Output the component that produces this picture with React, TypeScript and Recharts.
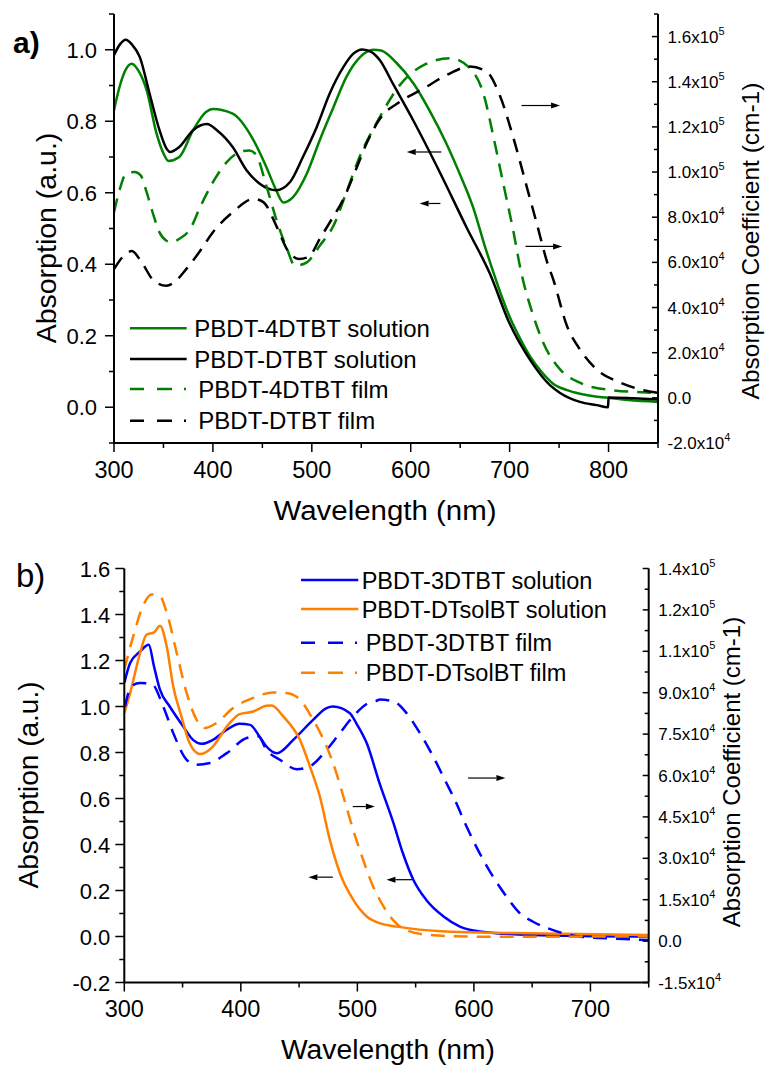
import React from 'react';
import { LineChart, Line, XAxis, YAxis, Legend, ReferenceLine } from 'recharts';

type Pt = [number, number];

// ---- panel a: wavelength (nm) vs absorption ----
// solutions on the left axis (a.u.)
const aSol4DTBT: Pt[] = [
  [300, 0.831], [306, 0.9], [312, 0.945], [318, 0.961], [325, 0.94], [333, 0.887], [343, 0.766],
  [350, 0.71], [355, 0.689], [366, 0.7], [380, 0.775], [393, 0.826], [400, 0.834], [420, 0.821],
  [441, 0.747], [454, 0.672], [464, 0.607], [471, 0.573], [481, 0.588], [495, 0.654], [508, 0.747],
  [522, 0.84], [535, 0.924], [549, 0.98], [562, 1.0], [570, 0.998], [585, 0.965], [603, 0.905],
  [620, 0.825], [636, 0.738], [650, 0.65], [663, 0.56], [675, 0.45], [684, 0.374], [692, 0.31],
  [700, 0.253], [711, 0.19], [721, 0.141], [732, 0.1], [744, 0.066], [758, 0.048], [771, 0.038],
  [785, 0.031], [798, 0.027], [820, 0.02], [850, 0.015],
];
const aSolDTBT: Pt[] = [
  [300, 0.985], [306, 1.015], [312, 1.028], [318, 1.015], [326, 0.98], [336, 0.877], [346, 0.775],
  [353, 0.724], [356.5, 0.714], [366, 0.728], [380, 0.775], [394, 0.792], [404, 0.775], [420, 0.728],
  [434, 0.663], [447, 0.626], [464, 0.607], [478, 0.63], [491, 0.7], [505, 0.784], [518, 0.877],
  [532, 0.952], [542, 0.989], [551, 1.001], [560, 0.994], [569, 0.97], [582, 0.905], [603, 0.8],
  [630, 0.654], [657, 0.5], [680, 0.374], [700, 0.234], [721, 0.131], [741, 0.061], [751, 0.04],
  [771, 0.015], [788, 0.006], [799.5, 0.0], [800, 0.027], [825, 0.025], [850, 0.022],
];
// films on the right axis (cm-1)
const aFilm4DTBT: Pt[] = [
  [300, 82200], [306, 92600], [312, 99200], [321, 100000], [327, 98500], [333, 91100], [339, 82200],
  [346, 73300], [353, 69600], [358, 68900], [366, 70400], [377, 74800], [387, 84400], [400, 95500],
  [414, 104400], [427, 108900], [437, 109600], [444, 107400], [454, 94000], [464, 79200], [475, 65900],
  [483, 58500], [495, 60000], [508, 67400], [522, 76300], [535, 91100], [549, 107400], [566, 122200],
  [589, 138500], [613, 147400], [640, 150400], [660, 145900], [674, 134000], [684, 114800], [694, 94000],
  [704, 73300], [711, 57000], [724, 36300], [734, 24400], [751, 12600], [771, 6700], [798, 3700],
  [850, 2200],
];
const aFilmDTBT: Pt[] = [
  [300, 57000], [310, 63000], [318, 65000], [328, 60000], [340, 52000], [353, 49600], [363, 52000],
  [373, 57000], [387, 65000], [400, 73300], [420, 82200], [441, 88100], [451, 86700], [464, 76300],
  [476, 65000], [487, 61500], [497, 62500], [508, 70400], [520, 79000], [532, 88100], [544, 100500],
  [556, 113300], [569, 123700], [589, 131100], [613, 137000], [636, 142900], [660, 146700],
  [677, 144400], [690, 134000], [704, 114800], [717, 94000], [728, 76300], [738, 60000], [744, 52600],
  [758, 31800], [771, 21500], [788, 12600], [812, 6700], [832, 3700], [850, 2200],
];

// ---- panel b ----
const bSol3DTBT: Pt[] = [
  [300, 1.102], [305, 1.189], [313.5, 1.239], [321, 1.268], [325.5, 1.174], [330.6, 1.073], [339, 1.0],
  [350.6, 0.913], [359, 0.855], [366.4, 0.838], [376, 0.855], [388, 0.899], [399, 0.925], [408, 0.92],
  [416, 0.87], [422, 0.826], [431, 0.797], [445, 0.855], [462, 0.942], [473.6, 0.993], [479, 1.0],
  [493.6, 0.971], [499, 0.928], [508, 0.841], [519, 0.667], [531, 0.493], [539, 0.363], [548, 0.247],
  [559, 0.16], [574, 0.087], [588, 0.043], [605, 0.022], [648, 0.007], [750, 0.0],
];
const bSolDTsolBT: Pt[] = [
  [300, 0.971], [305, 1.058], [313.5, 1.232], [319, 1.312], [325.5, 1.322], [330.6, 1.351],
  [336.4, 1.261], [342, 1.087], [349, 0.957], [356, 0.841], [365, 0.793], [376, 0.826], [388, 0.913],
  [399, 0.967], [410.6, 0.978], [422, 1.003], [426.4, 1.004], [436.4, 0.957], [450.7, 0.855],
  [459.3, 0.739], [467.8, 0.609], [476.4, 0.42], [485, 0.276], [496.4, 0.16], [508, 0.087],
  [519, 0.058], [534, 0.043], [576, 0.022], [634, 0.015], [750, 0.007],
];
const bFilm3DTBT: Pt[] = [
  [300.6, 85000], [306, 92300], [313.5, 93500], [323.5, 93200], [333.4, 85000], [342, 75400],
  [353.5, 65700], [362, 63900], [373.5, 64500], [388, 68100], [405, 73600], [415, 74200], [422, 69300],
  [433.5, 65700], [448, 62300], [459, 63300], [473.6, 69300], [485, 75400], [496.4, 81400],
  [508, 85900], [516.5, 87100], [519.3, 87500], [530.7, 86900], [542, 82700], [553.6, 75400],
  [565, 66900], [576.5, 57200], [583.6, 51200], [593.7, 41500], [605, 31800], [616.5, 23300],
  [628, 16100], [639.4, 10100], [650.8, 7000], [668, 4000], [691, 1600], [714, 1000], [750, 400],
];
const bFilmDTsolBT: Pt[] = [
  [300, 98400], [307.7, 110500], [316, 121400], [323.5, 125600], [330.6, 125000], [336.4, 119000],
  [345, 104400], [353.5, 89900], [362, 80200], [369, 77200], [379, 79000], [393.5, 84500],
  [410.6, 88100], [428, 90100], [439, 89900], [450.7, 87500], [462, 80200], [473.6, 70500],
  [482, 60900], [488, 52400], [496.4, 40300], [505, 29400], [513.6, 19700], [519.3, 14900],
  [530.7, 7600], [542, 4000], [562, 2200], [605, 1600], [662, 1600], [750, 1800],
];

// ticks
const aXTicks = [300, 350, 400, 450, 500, 550, 600, 650, 700, 750, 800, 850];
const aLeftTicks = [-0.1, 0, 0.1, 0.2, 0.3, 0.4, 0.5, 0.6, 0.7, 0.8, 0.9, 1.0, 1.1];
const aRightTicks = [
  -20000, -10000, 0, 10000, 20000, 30000, 40000, 50000, 60000, 70000, 80000, 90000, 100000,
  110000, 120000, 130000, 140000, 150000, 160000, 170000,
];
const bXTicks = [300, 350, 400, 450, 500, 550, 600, 650, 700, 750];
const bLeftTicks = [-0.2, -0.1, 0, 0.1, 0.2, 0.3, 0.4, 0.5, 0.6, 0.7, 0.8, 0.9, 1.0, 1.1, 1.2, 1.3, 1.4, 1.5, 1.6];
const bRightTicks = [
  -15000, -7500, 0, 7500, 15000, 22500, 30000, 37500, 45000, 52500, 60000, 67500, 75000, 82500,
  90000, 97500, 105000, 112500, 120000, 127500, 135000,
];

const GREEN = '#008000';
const BLUE = '#0000ff';
const ORANGE = '#ff8000';
const FONT = 'Arial, "Liberation Sans", Helvetica, sans-serif';
const DASH = '14 9';

const rows = (pts: Pt[]) => pts.map(([x, y]) => ({ x, y }));

const sci = (v: number) => {
  if (v === 0) return ['0.0', ''];
  const e = Math.floor(Math.log10(Math.abs(v)) + 1e-9);
  return [(v / Math.pow(10, e)).toFixed(1) + 'x10', String(e)];
};

const LeftTick = ({ x, y, payload, gap }: any) => {
  const v = payload.value;
  const major = Math.round(v * 10) % 2 === 0;
  return (
    <g>
      <line x1={x - (major ? 9 : 5)} x2={x} y1={y} y2={y} stroke="#000" strokeWidth={1.5} />
      {major && (
        <text x={x - gap} y={y + 8} textAnchor="end" fontSize={22} fontFamily={FONT} fill="#000">
          {v.toFixed(1)}
        </text>
      )}
    </g>
  );
};

const BottomTick = ({ x, y, payload }: any) => {
  const v = payload.value;
  const major = v % 100 === 0;
  return (
    <g>
      <line x1={x} x2={x} y1={y} y2={y + (major ? 9 : 5)} stroke="#000" strokeWidth={1.5} />
      {major && (
        <text x={x} y={y + 34.5} textAnchor="middle" fontSize={23.5} fontFamily={FONT} fill="#000">
          {v}
        </text>
      )}
    </g>
  );
};

const RightTick = ({ x, y, payload, step }: any) => {
  const v = payload.value;
  const major = Math.round(v / step) % 2 === 0;
  const [m, e] = sci(v);
  return (
    <g>
      <line x1={x - (major ? 6 : 4)} x2={x} y1={y} y2={y} stroke="#000" strokeWidth={1.5} />
      {major && (
        <text x={x + 9.5} y={y + 6} fontSize={17} fontFamily={FONT} fill="#000">
          {m}
          {e && (
            <tspan dy={-8} fontSize={11}>
              {e}
            </tspan>
          )}
        </text>
      )}
    </g>
  );
};

const Arrow = (props: any) => {
  const { x1, y1, x2, y2 } = props;
  const dir = x2 > x1 ? 1 : -1;
  const hl = 9;
  return (
    <g>
      <line x1={x1} y1={y1} x2={x2 - dir * hl} y2={y2} stroke="#000" strokeWidth={1.2} />
      <polygon points={`${x2},${y2} ${x2 - dir * hl},${y2 - 3} ${x2 - dir * hl},${y2 + 3}`} fill="#000" />
    </g>
  );
};

// annotation arrows: [tail x, head x, y on left axis]
const aArrows = [
  [712, 751, 0.844],
  [631, 596, 0.714],
  [630, 609, 0.57],
  [716, 753, 0.45],
];
const bArrows = [
  [595, 627, 0.689],
  [496, 515, 0.565],
  [479, 458, 0.258],
  [547, 525, 0.247],
];

type LegendItem = { label: string; color: string; dashed: boolean };

const LegendBox = ({ items, rowsY, lineW, textX, fontSize }: any) => (
  <svg width={320} height={130} style={{ overflow: 'visible' }}>
    {items.map((it: LegendItem, i: number) => (
      <g key={it.label}>
        <line
          x1={0}
          x2={lineW}
          y1={rowsY[i]}
          y2={rowsY[i]}
          stroke={it.color}
          strokeWidth={2.5}
          strokeDasharray={it.dashed ? '14 13 15 12 2' : undefined}
        />
        <text
          x={it.dashed ? textX + 4 : textX}
          y={rowsY[i] + 8.5}
          fontSize={fontSize}
          fontFamily={FONT}
          fill="#000"
        >
          {it.label}
        </text>
      </g>
    ))}
  </svg>
);

const aLegend: LegendItem[] = [
  { label: 'PBDT-4DTBT solution', color: GREEN, dashed: false },
  { label: 'PBDT-DTBT solution', color: '#000', dashed: false },
  { label: 'PBDT-4DTBT film', color: GREEN, dashed: true },
  { label: 'PBDT-DTBT film', color: '#000', dashed: true },
];
const bLegend: LegendItem[] = [
  { label: 'PBDT-3DTBT solution', color: BLUE, dashed: false },
  { label: 'PBDT-DTsolBT solution', color: ORANGE, dashed: false },
  { label: 'PBDT-3DTBT film', color: BLUE, dashed: true },
  { label: 'PBDT-DTsolBT film', color: ORANGE, dashed: true },
];

const axisLine = { stroke: '#000', strokeWidth: 2 };

export default function App() {
  return (
    <div style={{ position: 'absolute', left: 0, top: 0, width: 765, height: 1066, background: '#fff' }}>
      {/* panel a */}
      <div style={{ position: 'absolute', left: 0, top: 0 }}>
        <LineChart width={765} height={530} margin={{ top: 14, right: 0, bottom: 0, left: 0 }}>
          <XAxis
            dataKey="x"
            type="number"
            domain={[300, 850]}
            ticks={aXTicks}
            interval={0}
            allowDataOverflow
            height={87}
            axisLine={axisLine}
            tickLine={false}
            tickSize={0}
            tickMargin={0}
            tick={(p: any) => <BottomTick {...p} />}
          />
          <YAxis
            yAxisId="left"
            domain={[-0.1, 1.1]}
            ticks={aLeftTicks}
            interval={0}
            allowDataOverflow
            width={114}
            axisLine={axisLine}
            tickLine={false}
            tickSize={0}
            tickMargin={0}
            tick={(p: any) => <LeftTick {...p} gap={17} />}
          />
          <YAxis
            yAxisId="right"
            orientation="right"
            domain={[-20000, 170000]}
            ticks={aRightTicks}
            interval={0}
            allowDataOverflow
            width={107}
            axisLine={axisLine}
            tickLine={false}
            tickSize={0}
            tickMargin={0}
            tick={(p: any) => <RightTick {...p} step={10000} />}
          />
          <Line yAxisId="left" data={rows(aSol4DTBT)} dataKey="y" type="monotone" stroke={GREEN} strokeWidth={2.5} dot={false} isAnimationActive={false} />
          <Line yAxisId="left" data={rows(aSolDTBT)} dataKey="y" type="monotone" stroke="#000" strokeWidth={2.5} dot={false} isAnimationActive={false} />
          <Line yAxisId="right" data={rows(aFilm4DTBT)} dataKey="y" type="monotone" stroke={GREEN} strokeWidth={2.5} strokeDasharray={DASH} dot={false} isAnimationActive={false} />
          <Line yAxisId="right" data={rows(aFilmDTBT)} dataKey="y" type="monotone" stroke="#000" strokeWidth={2.5} strokeDasharray={DASH} dot={false} isAnimationActive={false} />
          {aArrows.map(([t, h, y], i) => (
            <ReferenceLine key={i} yAxisId="left" segment={[{ x: t, y }, { x: h, y }]} shape={Arrow} ifOverflow="visible" />
          ))}
          <Legend
            layout="vertical"
            align="center"
            verticalAlign="middle"
            wrapperStyle={{ left: 130, top: 310, width: 320, height: 130 }}
            content={() => (
              <LegendBox items={aLegend} rowsY={[18.3, 49, 79, 110.7]} lineW={56.7} textX={64.3} fontSize={24} />
            )}
          />
        </LineChart>
      </div>

      {/* panel b */}
      <div style={{ position: 'absolute', left: 0, top: 530 }}>
        <LineChart width={765} height={536} margin={{ top: 38.5, right: 0, bottom: 0, left: 0 }}>
          <XAxis
            dataKey="x"
            type="number"
            domain={[300, 750]}
            ticks={bXTicks}
            interval={0}
            allowDataOverflow
            height={83.5}
            axisLine={axisLine}
            tickLine={false}
            tickSize={0}
            tickMargin={0}
            tick={(p: any) => <BottomTick {...p} />}
          />
          <YAxis
            yAxisId="left"
            domain={[-0.2, 1.6]}
            ticks={bLeftTicks}
            interval={0}
            allowDataOverflow
            width={124.3}
            axisLine={axisLine}
            tickLine={false}
            tickSize={0}
            tickMargin={0}
            tick={(p: any) => <LeftTick {...p} gap={14} />}
          />
          <YAxis
            yAxisId="right"
            orientation="right"
            domain={[-15000, 135000]}
            ticks={bRightTicks}
            interval={0}
            allowDataOverflow
            width={116.3}
            axisLine={axisLine}
            tickLine={false}
            tickSize={0}
            tickMargin={0}
            tick={(p: any) => <RightTick {...p} step={7500} />}
          />
          <Line yAxisId="left" data={rows(bSol3DTBT)} dataKey="y" type="monotone" stroke={BLUE} strokeWidth={2.5} dot={false} isAnimationActive={false} />
          <Line yAxisId="left" data={rows(bSolDTsolBT)} dataKey="y" type="monotone" stroke={ORANGE} strokeWidth={2.5} dot={false} isAnimationActive={false} />
          <Line yAxisId="right" data={rows(bFilm3DTBT)} dataKey="y" type="monotone" stroke={BLUE} strokeWidth={2.5} strokeDasharray={DASH} dot={false} isAnimationActive={false} />
          <Line yAxisId="right" data={rows(bFilmDTsolBT)} dataKey="y" type="monotone" stroke={ORANGE} strokeWidth={2.5} strokeDasharray={DASH} dot={false} isAnimationActive={false} />
          {bArrows.map(([t, h, y], i) => (
            <ReferenceLine key={i} yAxisId="left" segment={[{ x: t, y }, { x: h, y }]} shape={Arrow} ifOverflow="visible" />
          ))}
          <Legend
            layout="vertical"
            align="center"
            verticalAlign="middle"
            wrapperStyle={{ left: 301, top: 30, width: 320, height: 130 }}
            content={() => (
              <LegendBox items={bLegend} rowsY={[20, 49, 82.7, 112.7]} lineW={57.3} textX={60.7} fontSize={23.5} />
            )}
          />
        </LineChart>
      </div>

      {/* titles */}
      <svg width={765} height={1066} style={{ position: 'absolute', left: 0, top: 0, pointerEvents: 'none' }}>
        <g fontFamily={FONT} fill="#000">
          <text x={13} y={53} fontSize={30} fontWeight="bold">a)</text>
          <text x={16} y={587} fontSize={33}>b)</text>
          <text x={385} y={520} fontSize={27} textAnchor="middle" textLength={223} lengthAdjust="spacingAndGlyphs">
            Wavelength (nm)
          </text>
          <text x={388} y={1059} fontSize={27} textAnchor="middle" textLength={214} lengthAdjust="spacingAndGlyphs">
            Wavelength (nm)
          </text>
          <text transform="translate(46,238) rotate(-90)" fontSize={28.5} textAnchor="middle" dominantBaseline="central">
            Absorption (a.u.)
          </text>
          <text transform="translate(28.5,785) rotate(-90)" fontSize={28} textAnchor="middle" dominantBaseline="central">
            Absorption (a.u.)
          </text>
          <text transform="translate(750.7,241) rotate(-90)" fontSize={24.5} textAnchor="middle" dominantBaseline="central">
            Absorption Coefficient (cm-1)
          </text>
          <text transform="translate(731.7,772) rotate(-90)" fontSize={24} textAnchor="middle" dominantBaseline="central">
            Absorption Coefficient (cm-1)
          </text>
        </g>
      </svg>
    </div>
  );
}
